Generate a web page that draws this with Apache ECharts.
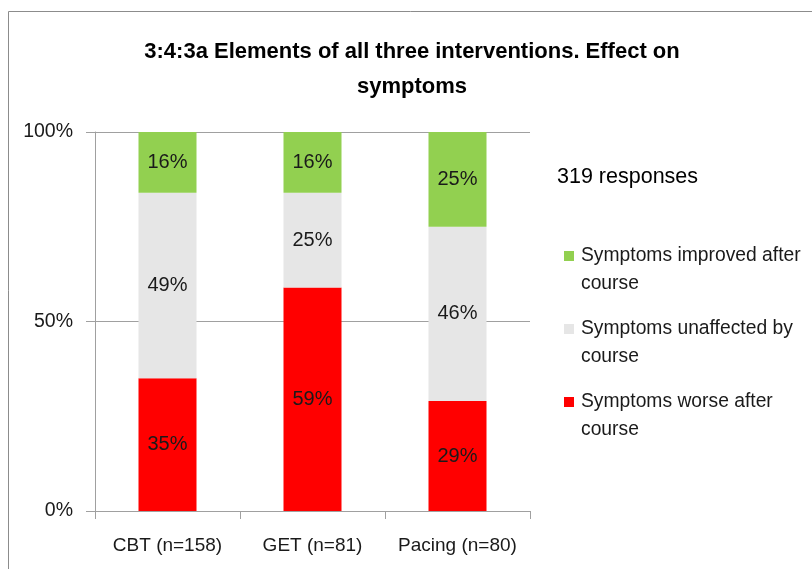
<!DOCTYPE html>
<html><head><meta charset="utf-8">
<script src="https://cdn.jsdelivr.net/npm/echarts@6/dist/echarts.min.js"></script>
<style>html,body{margin:0;padding:0;background:#fff}#c{width:812px;height:569px}</style>
</head><body><div id="c"></div>
<script>
const categories = ['CBT (n=158)', 'GET (n=81)', 'Pacing (n=80)'];
const worse = [35, 59, 29];
const unaffected = [49, 25, 46];
const improved = [16, 16, 25];
const yTicks = [0, 50, 100];
const seriesNames = ['Symptoms improved after\ncourse', 'Symptoms unaffected by\ncourse', 'Symptoms worse after\ncourse'];
const FONT = '"Liberation Sans", Arial, sans-serif';

const chart = echarts.init(document.getElementById('c'));
const lbl = {show: true, position: 'inside', formatter: p => p.value + '%', fontFamily: FONT, fontSize: 20, color: '#1a1a1a'};
chart.setOption({
  animation: false,
  title: {
    text: '3:4:3a Elements of all three interventions. Effect on\nsymptoms',
    left: 407, top: 29, textAlign: 'center',
    textStyle: {fontFamily: FONT, fontWeight: 'bold', fontSize: 22, color: '#000', lineHeight: 35}
  },
  graphic: [
    {type: 'rect', shape: {x: 8.5, y: 11.5, width: 900, height: 700}, style: {fill: 'none', stroke: '#8c8c8c', lineWidth: 1}, silent: true},
    {type: 'text', left: 557, top: 166, style: {text: '319 responses', font: '21.5px ' + FONT, fill: '#000'}}
  ],
  legend: {
    orient: 'vertical', left: 564, top: 242, padding: 0,
    itemWidth: 10, itemHeight: 38, itemGap: 17,
    icon: 'path://M0,0h10v10h-10zM0,38h10v0h-10z',
    data: [seriesNames[0], seriesNames[1], seriesNames[2]],
    textStyle: {fontFamily: FONT, fontSize: 19.3, color: '#1a1a1a', lineHeight: 28, padding: [0, 0, 0, 2]}
  },
  grid: {left: 95, right: 282, top: 132, bottom: 58, containLabel: false},
  xAxis: {
    type: 'category', data: categories,
    axisLine: {show: true, lineStyle: {color: '#a0a0a0'}},
    axisTick: {show: true, length: 8, lineStyle: {color: '#a0a0a0'}},
    axisLabel: {interval: 0, fontFamily: FONT, fontSize: 19, color: '#1a1a1a', margin: 25}
  },
  yAxis: {
    type: 'value', min: 0, max: 100, interval: 50,
    axisLine: {show: true, lineStyle: {color: '#a0a0a0'}},
    axisTick: {show: true, length: 9, lineStyle: {color: '#a0a0a0'}},
    splitLine: {show: true, lineStyle: {color: '#a0a0a0'}},
    axisLabel: {fontFamily: FONT, fontSize: 19.5, color: '#1a1a1a', margin: 22, formatter: v => yTicks.includes(v) ? v + '%' : ''}
  },
  series: [
    {name: seriesNames[2], type: 'bar', stack: 's', barWidth: '40%', data: worse, itemStyle: {color: '#ff0000'}, label: lbl},
    {name: seriesNames[1], type: 'bar', stack: 's', data: unaffected, itemStyle: {color: '#e6e6e6'}, label: lbl},
    {name: seriesNames[0], type: 'bar', stack: 's', data: improved, itemStyle: {color: '#92d050'}, label: lbl}
  ]
});
</script></body></html>
